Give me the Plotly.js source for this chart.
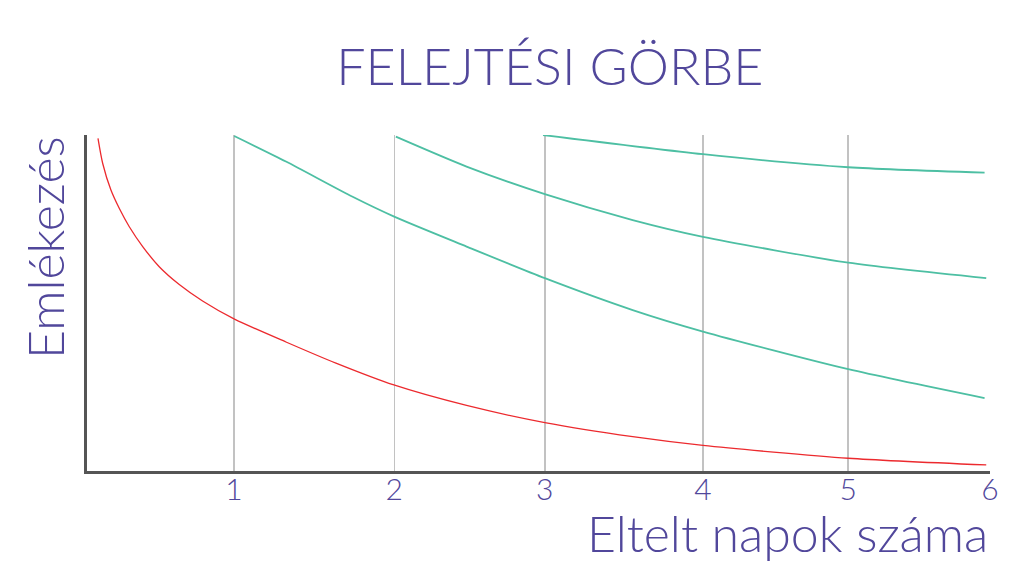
<!DOCTYPE html>
<html>
<head>
<meta charset="utf-8">
<script src="https://cdn.plot.ly/plotly-3.0.1.min.js"></script>
<style>html,body{margin:0;padding:0;background:#fff;}#chart{width:1024px;height:576px;}</style>
</head>
<body>
<div id="chart"></div>
<script>
// Tick positions (days) as placed on the reference axis, and their labels
const dayTicks = [0.976, 2.042, 3.042, 4.093, 5.058, 6.0];
const dayLabels = ["1", "2", "3", "4", "5", "6"];

// Forgetting curve (red) – retention (%) without review
const redX = [0.073, 0.104, 0.159, 0.215, 0.281, 0.370, 0.480, 0.613, 0.768, 0.980, 1.322, 1.654, 2.039, 2.522, 3.042, 3.626, 4.093, 5.058, 5.975];
const redY = [99.0, 91.6, 83.6, 78.1, 72.7, 66.8, 60.8, 55.5, 50.6, 45.2, 38.4, 32.1, 25.6, 19.5, 14.4, 10.2, 7.6, 3.8, 1.8];

// Curves after each review (green)
const rev1X = [0.978, 1.322, 1.765, 2.041, 2.522, 3.042, 3.626, 4.093, 5.058, 5.964];
const rev1Y = [99.7, 92.1, 81.6, 75.7, 66.8, 57.4, 47.9, 41.5, 30.3, 21.7];

const rev2X = [2.052, 2.522, 3.042, 3.626, 4.093, 5.058, 5.975];
const rev2Y = [99.5, 90.6, 82.4, 74.7, 69.7, 62.0, 57.4];

const rev3X = [3.030, 4.093, 5.058, 5.964];
const rev3Y = [100, 94.3, 90.4, 88.8];

const purple = "#51479b";
const green = "#4dbfa3";
const FONT = "Lato, 'Open Sans', sans-serif";

const mk = (x, y, color, w) => ({
  x: x, y: y, type: "scatter", mode: "lines",
  line: {color: color, width: w, shape: "spline", smoothing: 0.7},
  cliponaxis: false,
  hoverinfo: "skip", showlegend: false
});

const data = [
  mk(redX, redY, "#ec2a2e", 1.3),
  mk(rev1X, rev1Y, green, 1.8),
  mk(rev2X, rev2Y, green, 1.8),
  mk(rev3X, rev3Y, green, 1.8)
];

const layout = {
  width: 1024, height: 576,
  paper_bgcolor: "#ffffff", plot_bgcolor: "#ffffff",
  margin: {l: 87, r: 33.5, t: 135, b: 105},
  showlegend: false,
  font: {family: FONT, color: purple},
  title: {
    text: "FELEJTÉSI GÖRBE",
    font: {family: FONT, size: 52, color: purple, weight: 300},
    x: 0.537, xref: "container", xanchor: "center",
    y: 0.884, yref: "container", yanchor: "middle"
  },
  xaxis: {
    range: [0, 6],
    tickmode: "array", tickvals: dayTicks, ticktext: dayLabels,
    ticks: "", showline: true, linecolor: "#555555", linewidth: 3,
    showgrid: true, gridcolor: "#c2c2c2", gridwidth: 1.5,
    zeroline: false,
    ticklabelstandoff: -10,
    tickfont: {family: FONT, size: 30, color: purple, weight: 300},
    fixedrange: true
  },
  yaxis: {
    range: [0, 100],
    showticklabels: false, ticks: "",
    showline: true, linecolor: "#555555", linewidth: 3,
    showgrid: false, zeroline: false, fixedrange: true
  },
  annotations: [
    {
      text: "Emlékezés", textangle: -90,
      xref: "paper", yref: "paper",
      x: -0.0465, y: 0.664, xanchor: "center", yanchor: "middle",
      showarrow: false,
      font: {family: FONT, size: 50, color: purple, weight: 300}
    },
    {
      text: "Eltelt napok száma",
      xref: "paper", yref: "paper",
      x: 1.0, y: -0.185, xanchor: "right", yanchor: "middle",
      showarrow: false,
      font: {family: FONT, size: 50, color: purple, weight: 300}
    }
  ]
};

Plotly.newPlot("chart", data, layout, {displayModeBar: false, staticPlot: true});
</script>
</body>
</html>
